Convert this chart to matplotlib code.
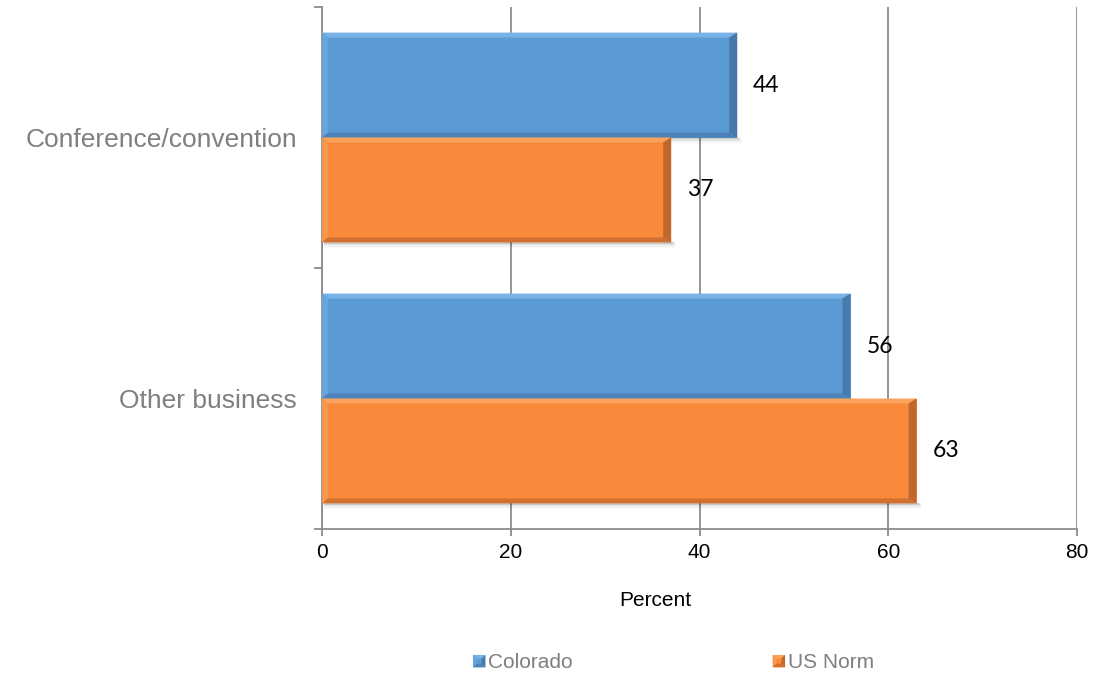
import matplotlib
matplotlib.use("Agg")
import matplotlib.pyplot as plt
from matplotlib.patches import Polygon, Rectangle
from matplotlib.legend_handler import HandlerBase
import numpy as np

# Data
categories = ["Conference/convention", "Other business"]
series_names = ["Colorado", "US Norm"]
colorado = [44, 56]
us_norm = [37, 63]
x_ticks = [0, 20, 40, 60, 80]

BLUE = {"face": "#5b9bd5", "top": "#78b1e6", "left": "#67a5dd", "right": "#4779aa", "bottom": "#4d82b8"}
ORANGE = {"face": "#f9893b", "top": "#fba35c", "left": "#fa964a", "right": "#c1672b", "bottom": "#d2712f"}

plt.rcParams["font.family"] = ["Liberation Sans", "DejaVu Sans"]

fig = plt.figure(figsize=(11.02, 6.77), dpi=100)
ax = fig.add_axes([322 / 1102, 1 - 529 / 677, (1077 - 322) / 1102, (529 - 7) / 677])

ax.set_xlim(0, 80)
ax.set_ylim(-0.5, 1.5)

# categories from top to bottom
ypos = np.array([1.0, 0.0])
bar_h = 0.402
off = bar_h / 2

ax.set_xticks(x_ticks)
ax.set_xticklabels([str(t) for t in x_ticks], fontsize=15)
ax.xaxis.grid(True, color="#8c8c8c", linewidth=1.3)
ax.set_axisbelow(True)
ax.set_yticks([-0.5, 0.5, 1.5])
ax.set_yticklabels([])
ax.set_yticks(ypos, minor=True)
ax.set_yticklabels(categories, minor=True, fontsize=19, color="#7f7f7f")
ax.tick_params(axis="y", which="minor", length=0, pad=18)
ax.tick_params(axis="y", which="major", length=6, width=1.3, color="#8c8c8c")
ax.tick_params(axis="x", length=5, width=1.3, color="#8c8c8c", pad=5)
for side in ("top", "right"):
    ax.spines[side].set_visible(False)
for side in ("left", "bottom"):
    ax.spines[side].set_color("#8c8c8c")
    ax.spines[side].set_linewidth(1.3)

ax.set_xlabel("Percent", fontsize=15, va="center")
ax.xaxis.set_label_coords(0.442, (529 - 601) / 522)

bars_c = ax.barh(ypos + off, colorado, height=bar_h, color=BLUE["face"], zorder=3, label=series_names[0])
bars_u = ax.barh(ypos - off, us_norm, height=bar_h, color=ORANGE["face"], zorder=3, label=series_names[1])

fig.canvas.draw()
inv = fig.transFigure.inverted()


def bevel_strips(x0, y0, x1, y1, pal, bt=5, bl=6, bb=5, br=8):
    return [
        ([(x0, y1), (x1, y1), (x1 - br, y1 - bt), (x0 + bl, y1 - bt)], pal["top"]),
        ([(x0, y0), (x0, y1), (x0 + bl, y1 - bt), (x0 + bl, y0 + bb)], pal["left"]),
        ([(x0, y0), (x1, y0), (x1 - br, y0 + bb), (x0 + bl, y0 + bb)], pal["bottom"]),
        ([(x1, y1), (x1, y0), (x1 - br, y0 + bb), (x1 - br, y1 - bt)], pal["right"]),
    ]


def bevel(rect, pal):
    (x0, y0), (x1, y1) = ax.transData.transform([(rect.get_x(), rect.get_y()),
                                                   (rect.get_x() + rect.get_width(), rect.get_y() + rect.get_height())])
    # soft shadow under the bar
    for i, a in enumerate([0.10, 0.06, 0.035, 0.02]):
        p0 = inv.transform((x0 + 2, y0 - 1.5 - 1.5 * i))
        p1 = inv.transform((x1 + 2 + i, y0))
        fig.add_artist(Rectangle(p0, p1[0] - p0[0], p1[1] - p0[1], transform=fig.transFigure,
                                 color="black", alpha=a, lw=0, zorder=2))
    for pts, col in bevel_strips(x0, y0, x1, y1, pal):
        fig.add_artist(Polygon(inv.transform(pts), closed=True, transform=fig.transFigure,
                               facecolor=col, edgecolor="none", zorder=4))


for r in bars_c:
    bevel(r, BLUE)
for r in bars_u:
    bevel(r, ORANGE)

for vals, bars in ((colorado, bars_c), (us_norm, bars_u)):
    for v, r in zip(vals, bars):
        ax.annotate(str(v), (v, r.get_y() + r.get_height() / 2), xytext=(11.5, 0),
                    textcoords="offset points", va="center", ha="left",
                    fontsize=16.5, family=["Lato", "DejaVu Sans"], color="black", zorder=5)


class BevelHandler(HandlerBase):
    def __init__(self, pal):
        super().__init__()
        self.pal = pal

    def create_artists(self, legend, orig_handle, xdescent, ydescent, width, height, fontsize, trans):
        s = min(width, height * 1.2)
        x0, y0 = -xdescent + width - s, -ydescent + (height - s) / 2
        arts = [Rectangle((x0, y0), s, s, facecolor=self.pal["face"], edgecolor="none", transform=trans)]
        b = s * 0.3
        for pts, col in bevel_strips(x0, y0, x0 + s, y0 + s, self.pal, b, b, b, b):
            arts.append(Polygon(pts, closed=True, facecolor=col, edgecolor="none", transform=trans))
        return arts


leg = fig.legend(handles=[bars_c, bars_u], labels=series_names, loc="center",
                 bbox_to_anchor=(0.611, 1 - 663 / 677), ncol=2, frameon=False,
                 fontsize=15, handlelength=0.6, handleheight=0.6, handletextpad=0.12,
                 columnspacing=9.6,
                 handler_map={bars_c: BevelHandler(BLUE), bars_u: BevelHandler(ORANGE)})
for t in leg.get_texts():
    t.set_color("#7f7f7f")

fig.savefig("out.png", dpi=100)
